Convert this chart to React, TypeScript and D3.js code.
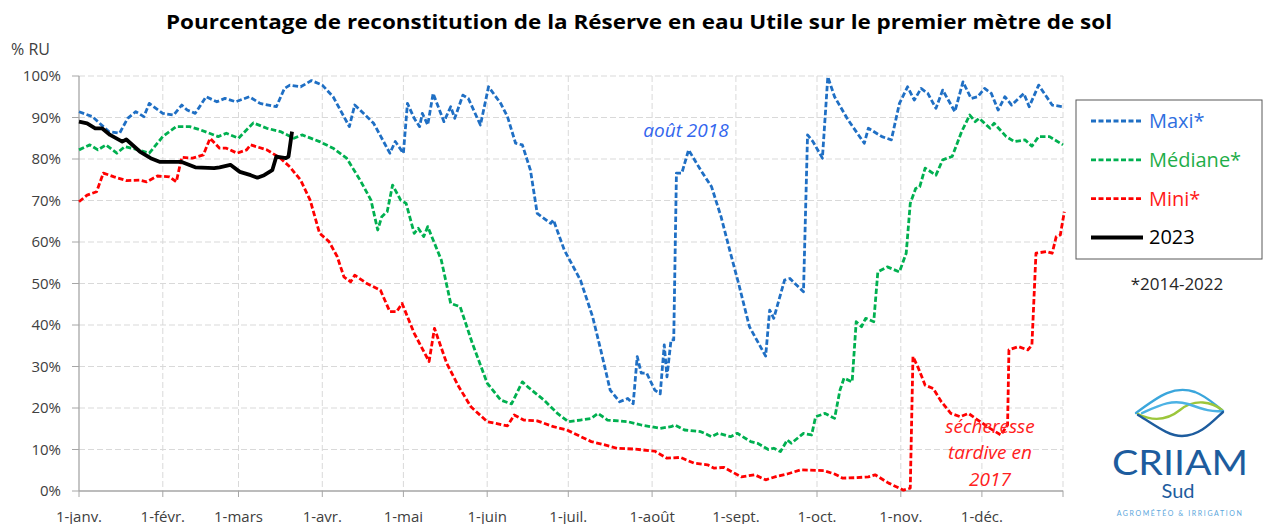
import React from 'react';
import * as d3 from 'd3';

// day of year (0 = 1 Jan), % RU
const maxiPoints: [number, number][] = [
  [0, 91.4], [5, 90.2], [11, 86.6], [15, 86.2], [18, 89.8], [21, 91.4], [24, 90.2], [26, 93.4],
  [31, 91], [35, 90.6], [38, 93], [40, 91.8], [43, 91], [47, 95], [51, 93.8], [54, 94.6],
  [58, 93.8], [63, 95], [67, 93.4], [73, 92.6], [76, 97], [78, 97.8], [82, 97.4], [86, 98.9],
  [90, 97.8], [94, 95], [98, 90.2], [100, 87.8], [102, 93], [104, 91.8], [109, 88.6], [115, 81.4],
  [117, 84.2], [120, 81.4], [121.5, 93.4], [124, 89.8], [126, 87.8], [127, 91], [129, 88.2],
  [131, 95.8], [135, 89], [137.5, 92.6], [139, 89.8], [142, 95.4], [144, 94.6], [148.5, 88.2],
  [151.5, 97.4], [156, 93.4], [158.5, 90.2], [161.5, 83.8], [164, 83.4], [167, 77.3], [169.5, 66.9],
  [174.5, 64.5], [175.5, 65.3], [179.5, 58.1], [185.5, 50.8], [190, 42], [193, 34], [196.5, 24.3],
  [200, 21.5], [203, 22.3], [205, 21], [206.5, 32.4], [208, 28.4], [210, 28.4], [213, 24.3],
  [215, 23.4], [216.5, 35.2], [217.5, 27.5], [219, 36.4], [220, 36.4], [221, 76.6], [223, 76.6],
  [225.5, 82.2], [230, 77.3], [234, 73.3], [237.5, 66.1], [241, 57.3], [244, 50], [248, 39.6],
  [254, 32.5], [255.5, 43.6], [257, 41.6], [261, 50.8], [263, 51.2], [268, 48], [269.5, 85.8],
  [271.5, 84.2], [275, 80.2], [277, 99.8], [279.5, 95], [284.5, 89.4], [290.5, 83.8], [292, 87.4],
  [297, 85.4], [300.5, 84.6], [303.5, 93.4], [306.5, 97.4], [309, 94.2], [311.5, 97], [314, 95.8],
  [317, 92.2], [319.5, 96.6], [324, 91.4], [327, 98.6], [330, 94.6], [332.5, 95], [335, 97],
  [337.5, 95.8], [340, 91.8], [342.5, 95], [345, 93], [349.5, 95.8], [351.5, 92.6], [355, 97.8],
  [360, 93], [364, 92.6],
];

const medianePoints: [number, number][] = [
  [0, 82.2], [4, 83.4], [7, 82.2], [10, 83.4], [14, 81.4], [17, 83], [22, 82.2], [26, 81.4],
  [29, 83.8], [31, 85.4], [36, 87.8], [41, 87.8], [45, 87], [51.5, 85.4], [54.5, 86.2], [59, 85],
  [64.5, 88.7], [69.5, 87.4], [74.5, 86.6], [79.5, 85], [82.5, 85.8], [89, 84.2], [94, 82.6],
  [99, 80.2], [104, 74.9], [108, 70.1], [110.5, 62.9], [112, 66.1], [114, 67.3], [116, 73.7],
  [119, 70.1], [121, 69.3], [124, 62.1], [125.5, 63.3], [127.5, 61.3], [129, 63.7], [131, 60.5],
  [134, 55.7], [137.5, 45.2], [141, 44.4], [145.5, 35.6], [151, 26], [156, 21.9], [160, 21],
  [164, 26.3], [166, 25.1], [172, 21.9], [177, 18.7], [181, 16.7], [185.5, 17.1], [189.5, 17.5],
  [192, 18.7], [195.5, 17.1], [203, 16.7], [208, 15.9], [215, 15.1], [219, 15.5], [220.5, 15.9],
  [224, 14.7], [230, 14.3], [234, 13.1], [236.5, 13.9], [241, 13.1], [243.5, 13.9], [248.5, 11.9],
  [251, 11.5], [255, 10], [257, 10.3], [259.5, 9.5], [262, 12.3], [263.5, 11.5], [268, 13.9],
  [271, 13.5], [272.5, 17.9], [276, 18.7], [279.5, 17.5], [281.5, 24.3], [283, 27.2], [286, 26.3],
  [287.5, 40.8], [289.5, 39.6], [291, 41.6], [294, 40.8], [295.5, 52.8], [299, 54], [303.5, 52.8],
  [306, 57.3], [307.5, 69.3], [309.5, 72.9], [311, 73.3], [313, 77.8], [317, 76.1], [319.5, 79.8],
  [323, 80.6], [326.5, 86.6], [329.5, 90.6], [331.5, 89], [333, 89.8], [337, 87.4], [338.5, 88.6],
  [343, 85.4], [346, 84.2], [350, 84.6], [352.5, 83.1], [355, 85.4], [359, 85.4], [364, 83.4],
];

const miniPoints: [number, number][] = [
  [0, 69.7], [3, 71.3], [6.5, 72.1], [9, 76.6], [13, 75.7], [17.5, 74.8], [22.5, 74.9], [25, 74.5],
  [29, 75.9], [33.5, 75.7], [36, 74.5], [38, 80.4], [42, 80.2], [46, 81], [48.5, 85], [52, 82.6],
  [54.5, 82.6], [58.5, 81.4], [62, 82.2], [63.5, 83.4], [69.5, 82.2], [74.5, 80.2], [78, 78.1],
  [82, 74.9], [85.5, 70.1], [89, 62.1], [92.5, 60.1], [95.5, 56.5], [98, 51.6], [100.5, 50.4],
  [102, 52], [106.5, 50], [111.5, 48.4], [115, 43.2], [117.5, 43.2], [119.5, 45.2], [121, 42.8],
  [124, 38], [129.5, 31.2], [131.5, 39.2], [136, 30.8], [140.5, 25.1], [145, 20.3], [151, 16.7],
  [158.5, 15.7], [161, 18.3], [164.5, 17.1], [169.5, 16.9], [175.5, 15.5], [180.5, 14.7],
  [189.5, 11.9], [194.5, 11.1], [199, 10.3], [205.5, 10.1], [213, 9.6], [217.5, 7.9], [222.5, 8.1],
  [227.5, 6.7], [232.5, 6.3], [235, 5.5], [238.5, 5.7], [245, 3.4], [250, 3.9], [254, 2.7],
  [258.5, 3.6], [262, 4.1], [267, 5.1], [275.5, 4.9], [279.5, 4.1], [282.5, 3.1], [287, 3.2],
  [292, 3.4], [294.5, 3.9], [299.5, 1.9], [305, 0.2], [307.5, 0.7], [308.5, 32.4], [310.5, 29.6],
  [313, 25.5], [316, 24.7], [319, 21.5], [322.5, 18.7], [326, 17.9], [329, 18.7], [332.5, 17.1],
  [337, 15.1], [341, 13.5], [343.5, 15.9], [344, 34], [347.5, 34.8], [351, 34], [352.5, 35.2],
  [354, 57.3], [358, 57.7], [360, 57.3], [361.5, 61.3], [363, 61.7], [364.5, 67.3],
];

const points2023: [number, number][] = [
  [0, 89], [3, 88.6], [6, 87.4], [8.5, 87.4], [11.5, 85.8], [16, 84.2], [17.5, 84.7], [22.5, 81.8],
  [26.5, 80.2], [30, 79.3], [36, 79.3], [38, 79.3], [43, 78], [50, 77.8], [52, 78], [56, 78.6],
  [59.5, 76.9], [63.5, 76.1], [66, 75.5], [68.5, 76.1], [71.5, 77.3], [73, 80.6], [76.5, 80.2],
  [77.5, 80.6], [78.8, 86.6],
];

const monthLabels = ['1-janv.', '1-févr.', '1-mars', '1-avr.', '1-mai', '1-juin', '1-juil.', '1-août', '1-sept.', '1-oct.', '1-nov.', '1-déc.'];
const yTicks = [0, 10, 20, 30, 40, 50, 60, 70, 80, 90, 100];

const seriesNames = ['Maxi*', 'Médiane*', 'Mini*', '2023'];
const seriesColors = ['#1f6fc4', '#00b050', '#ff0000', '#000000'];
const labelColors = ['#2f6fe0', '#1fae4a', '#ff1a1a', '#000000'];

const W = 1270;
const H = 524;
const font = '"Open Sans", "Noto Sans", sans-serif';

export default function App() {
  const start = new Date(2023, 0, 1);
  const end = new Date(2023, 11, 31);
  const x = d3.scaleTime().domain([start, end]).range([79, 1063]);
  const y = d3.scaleLinear().domain([0, 100]).range([491, 76]);
  const dayToDate = (d: number) => start.getTime() + d * 86400000;

  const line = d3.line<[number, number]>()
    .x(d => x(dayToDate(d[0])))
    .y(d => y(d[1]));

  const months = d3.timeMonth.range(start, new Date(2024, 0, 1));
  const gridX = months.map(m => x(m)).concat([x(end)]);

  const allSeries = [maxiPoints, medianePoints, miniPoints, points2023];

  return (
    <svg width={W} height={H} style={{ position: 'absolute', left: 0, top: 0, background: '#fff' }}
      fontFamily={font}>
      <text x={639} y={29} textAnchor="middle" fontWeight="bold" fontSize={20}
        textLength={946} lengthAdjust="spacingAndGlyphs" fill="#000">
        Pourcentage de reconstitution de la Réserve en eau Utile sur le premier mètre de sol
      </text>
      <text x={11} y={55} fontSize={16} fill="#404040">% RU</text>

      {/* horizontal grid */}
      {yTicks.map(t => (
        <g key={'y' + t}>
          {t > 0 && <line x1={79} x2={1063} y1={y(t)} y2={y(t)} stroke="#d9d9d9" strokeDasharray="6 3" />}
          <line x1={72} x2={79} y1={y(t)} y2={y(t)} stroke="#a6a6a6" />
          <text x={61} y={y(t) + 5} textAnchor="end" fontSize={15} fill="#404040">{t}%</text>
        </g>
      ))}
      {/* vertical grid */}
      {gridX.map((gx, i) => (
        <g key={'x' + i}>
          {i > 0 && <line x1={gx} x2={gx} y1={76} y2={491} stroke="#d9d9d9" strokeDasharray="6 3" />}
          <line x1={gx} x2={gx} y1={491} y2={497} stroke="#a6a6a6" />
        </g>
      ))}
      {months.map((m, i) => (
        <text key={'ml' + i} x={x(m)} y={522} textAnchor="middle" fontSize={15} fill="#404040">
          {monthLabels[i]}
        </text>
      ))}
      <line x1={79} x2={79} y1={76} y2={491} stroke="#a6a6a6" strokeWidth={1.3} />
      <line x1={79} x2={1063} y1={491} y2={491} stroke="#a6a6a6" strokeWidth={1.3} />

      {/* series */}
      {allSeries.map((s, i) => (
        <path key={'s' + i} d={line(s) || ''} fill="none" stroke={seriesColors[i]}
          strokeWidth={i === 3 ? 3.8 : 2.8} strokeDasharray={i === 3 ? undefined : '5.5 2.5'}
          strokeLinejoin="round" />
      ))}

      {/* annotations */}
      <text x={686} y={137} textAnchor="middle" fontStyle="italic" fontSize={19} fill="#3366ee">août 2018</text>
      <g fontStyle="italic" fontSize={19} fill="#ff2020" textAnchor="middle">
        <text x={990} y={433}>sécheresse</text>
        <text x={990} y={459}>tardive en</text>
        <text x={990} y={486}>2017</text>
      </g>

      {/* legend */}
      <rect x={1076} y={100} width={186} height={159} fill="#fff" stroke="#595959" strokeWidth={1} />
      {seriesNames.map((n, i) => {
        const ly = 121 + i * 38.8;
        return (
          <g key={'lg' + i}>
            <line x1={1091} x2={1143} y1={ly} y2={ly} stroke={seriesColors[i]}
              strokeWidth={i === 3 ? 4 : 2.8} strokeDasharray={i === 3 ? undefined : '5 2.5'} />
            <text x={1149} y={ly + 7} fontSize={20} fill={labelColors[i]}>{n}</text>
          </g>
        );
      })}
      <text x={1177} y={290} textAnchor="middle" fontSize={17} fill="#262626">*2014-2022</text>

      {/* logo */}
      <g fill="none" strokeWidth={2.4} strokeLinecap="round">
        <path d="M1136,413 C1160,395 1175,385 1195,392 C1208,397 1215,405 1223,411" stroke="#3aa6dc" />
        <path d="M1138,414 C1150,420 1165,422 1180,410 C1195,398 1212,402 1222,410" stroke="#9cc63b" />
        <path d="M1142,413 C1160,405 1172,399 1188,404 C1205,410 1212,412 1222,411" stroke="#4cb2e4" />
        <path d="M1138,415 C1155,425 1168,436 1182,436 C1200,436 1212,422 1223,412" stroke="#1d5c9e" />
      </g>
      <text x={1112} y={475} fontSize={34} fill="#1d5c9e" fontFamily='"Lato", sans-serif'
        textLength={136} lengthAdjust="spacingAndGlyphs">CRIIAM</text>
      <text x={1178} y={498} textAnchor="middle" fontSize={20} fill="#1d5c9e" fontFamily='"Lato", sans-serif'>Sud</text>
      <text x={1180} y={516} textAnchor="middle" fontSize={7} fill="#5aa6dc" letterSpacing={1.6}
        fontFamily='"Lato", sans-serif'>AGROMÉTÉO &amp; IRRIGATION</text>
    </svg>
  );
}
